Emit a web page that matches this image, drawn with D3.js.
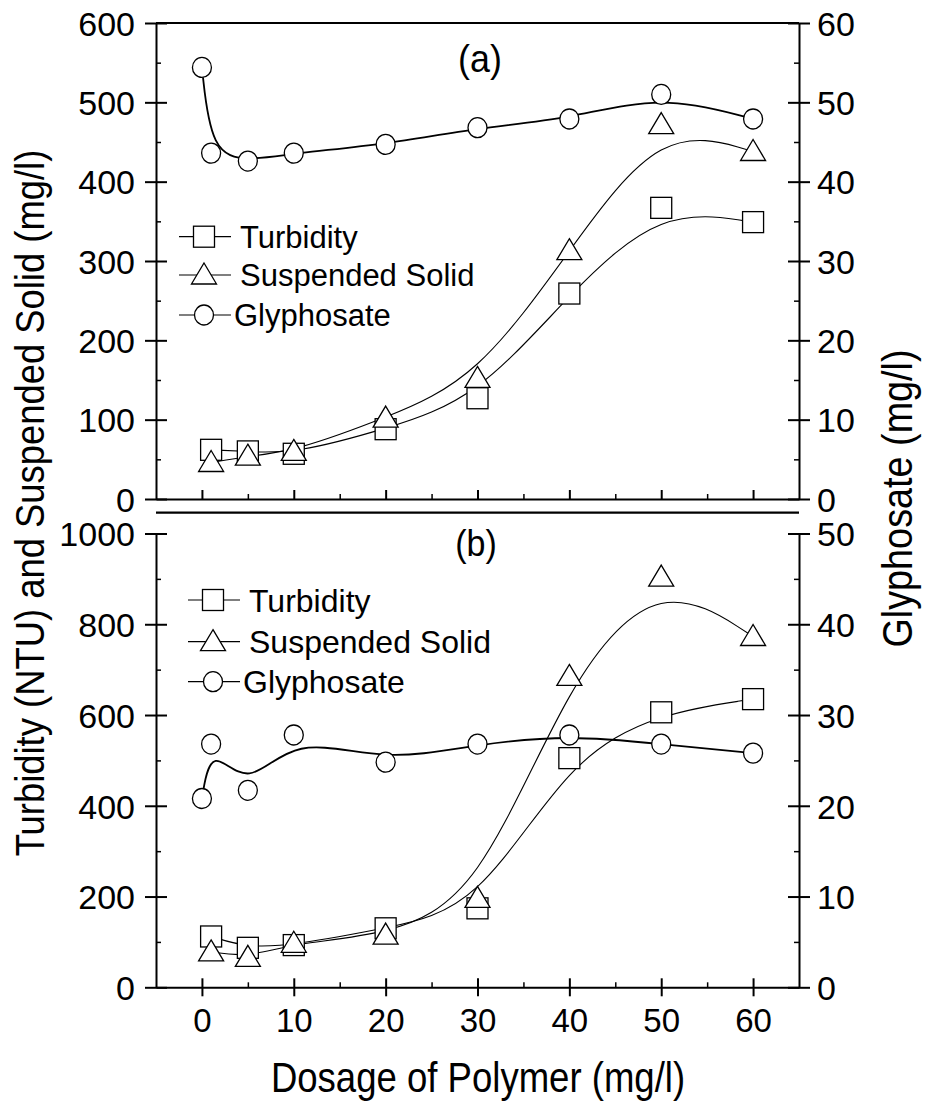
<!DOCTYPE html>
<html>
<head>
<meta charset="utf-8">
<script src="https://cdn.jsdelivr.net/npm/d3@7"></script>
<style>
  body { margin: 0; background: #fff; }
  text { font-family: "Liberation Sans", Arial, sans-serif; fill: #000; }
</style>
</head>
<body>
<script>
const width = 925;
const height = 1108;

// dosage of polymer (mg/l)
const dosage = [1, 5, 10, 20, 30, 40, 50, 60];
const glyDosage = [0, 1, 5, 10, 20, 30, 40, 50, 60];

// panel (a)
const turbidityA = [62, 60, 57, 88, 127, 259, 367, 349];
const suspendedA = [46, 54, 60, 102, 152, 313, 472, 438];
const glyphosateA = [54.4, 43.6, 42.6, 43.6, 44.7, 46.8, 47.9, 51.0, 47.9];

// panel (b)
const turbidityB = [112, 87, 93, 130, 174, 505, 606, 635];
const suspendedB = [78, 66, 97, 115, 196, 685, 904, 773];
const glyphosateB = [20.8, 26.8, 21.7, 27.8, 24.8, 26.8, 27.8, 26.8, 25.8];

const legendNames = ['Turbidity', 'Suspended Solid', 'Glyphosate'];

// ticks
const xTicks = [0, 10, 20, 30, 40, 50, 60];
const xMinor = [5, 15, 25, 35, 45, 55];
const leftTicksA = [0, 100, 200, 300, 400, 500, 600];
const leftMinorA = [50, 150, 250, 350, 450, 550];
const rightTicksA = [0, 10, 20, 30, 40, 50, 60];
const rightMinorA = [5, 15, 25, 35, 45, 55];
const leftTicksB = [0, 200, 400, 600, 800, 1000];
const leftMinorB = [100, 300, 500, 700, 900];
const rightTicksB = [0, 10, 20, 30, 40, 50];
const rightMinorB = [5, 15, 25, 35, 45];

const svg = d3.select('body').append('svg')
    .attr('width', width)
    .attr('height', height);

const x = d3.scaleLinear().domain([-5, 65]).range([156, 799]);
const yA = d3.scaleLinear().domain([0, 600]).range([499, 23]);
const gA = d3.scaleLinear().domain([0, 60]).range([499, 23]);
const yB = d3.scaleLinear().domain([0, 1000]).range([987.3, 533.5]);
const gB = d3.scaleLinear().domain([0, 50]).range([987.3, 533.5]);

const tickFont = 34;
const fmt = d3.format('d');

function styleAxis(g) {
    g.select('.domain').attr('stroke', '#000').attr('stroke-width', 2);
    g.selectAll('.tick line').attr('stroke', '#000').attr('stroke-width', 2);
    g.selectAll('.tick text').style('font-size', tickFont + 'px').attr('fill', '#000');
}

function leftAxis(yScale, major, minor) {
    const g = svg.append('g').attr('transform', `translate(${x.range()[0]},0)`);
    g.call(d3.axisLeft(yScale).tickValues(major).tickFormat(fmt).tickSize(11).tickSizeOuter(0).tickPadding(10));
    g.selectAll('.tick line').attr('x1', 11);
    g.selectAll('.tick text').attr('dy', '0.36em');
    styleAxis(g);
    const m = svg.append('g').attr('transform', `translate(${x.range()[0]},0)`);
    m.call(d3.axisLeft(yScale).tickValues(minor).tickSize(-5).tickFormat(''));
    m.select('.domain').remove();
    m.selectAll('.tick line').attr('stroke', '#000').attr('stroke-width', 1.5);
}

function rightAxis(yScale, major, minor) {
    const g = svg.append('g').attr('transform', `translate(${x.range()[1]},0)`);
    g.call(d3.axisRight(yScale).tickValues(major).tickFormat(fmt).tickSize(11).tickSizeOuter(0).tickPadding(7));
    g.selectAll('.tick line').attr('x1', -11);
    g.selectAll('.tick text').attr('dy', '0.36em');
    styleAxis(g);
    const m = svg.append('g').attr('transform', `translate(${x.range()[1]},0)`);
    m.call(d3.axisRight(yScale).tickValues(minor).tickSize(-5).tickFormat(''));
    m.select('.domain').remove();
    m.selectAll('.tick line').attr('stroke', '#000').attr('stroke-width', 1.5);
}

function bottomAxis(yPos, labels) {
    const g = svg.append('g').attr('transform', `translate(0,${yPos})`);
    if (labels) {
        g.call(d3.axisBottom(x).tickValues(xTicks).tickFormat(fmt).tickSize(9).tickSizeOuter(0).tickPadding(12));
        g.selectAll('.tick line').attr('y1', -9);
    } else {
        g.call(d3.axisBottom(x).tickValues(xTicks).tickSize(-9).tickSizeOuter(0).tickFormat(''));
    }
    styleAxis(g);
    if (labels) g.selectAll('.tick text').style('font-size', '33px');
    const m = svg.append('g').attr('transform', `translate(0,${yPos})`);
    m.call(d3.axisBottom(x).tickValues(xMinor).tickSize(-5).tickFormat(''));
    m.select('.domain').remove();
    m.selectAll('.tick line').attr('stroke', '#000').attr('stroke-width', 1.5);
}

function topLine(yPos) {
    svg.append('line')
        .attr('x1', x.range()[0]).attr('x2', x.range()[1])
        .attr('y1', yPos).attr('y2', yPos)
        .attr('stroke', '#000').attr('stroke-width', 2.2);
}

// frames and axes
topLine(yA.range()[1]);
leftAxis(yA, leftTicksA, leftMinorA);
rightAxis(gA, rightTicksA, rightMinorA);
bottomAxis(yA.range()[0], false);

topLine(512.7);
leftAxis(yB, leftTicksB, leftMinorB);
rightAxis(gB, rightTicksB, rightMinorB);
bottomAxis(yB.range()[0], true);

// markers
function marker(g, type, cx, cy) {
    if (type === 'square') {
        g.append('rect')
            .attr('x', cx - 10.5).attr('y', cy - 10.5)
            .attr('width', 21).attr('height', 21);
    } else if (type === 'triangle') {
        g.append('path')
            .attr('d', `M${cx},${cy - 12}L${cx + 12.5},${cy + 9}L${cx - 12.5},${cy + 9}Z`);
    } else {
        g.append('ellipse')
            .attr('cx', cx).attr('cy', cy).attr('rx', 9.5).attr('ry', 10);
    }
}

function drawPanel(turb, susp, gly, yScale, gScale) {
    const line = (ys) => d3.line()
        .x(d => x(d[0]))
        .y(d => ys(d[1]))
        .curve(d3.curveBasis);

    const series = [
        { xs: dosage, vals: turb, scale: yScale, type: 'square', lw: 1.1 },
        { xs: dosage, vals: susp, scale: yScale, type: 'triangle', lw: 1.1 },
        { xs: glyDosage, vals: gly, scale: gScale, type: 'circle', lw: 1.8 }
    ];

    series.forEach(s => {
        svg.append('path')
            .datum(s.xs.map((d, i) => [d, s.vals[i]]))
            .attr('fill', 'none')
            .attr('stroke', '#000')
            .attr('stroke-width', s.lw)
            .attr('d', line(s.scale));
    });

    series.forEach(s => {
        const g = svg.append('g')
            .attr('fill', '#fff')
            .attr('stroke', '#000')
            .attr('stroke-width', 1.3);
        s.xs.forEach((d, i) => marker(g, s.type, x(d), s.scale(s.vals[i])));
    });
}

drawPanel(turbidityA, suspendedA, glyphosateA, yA, gA);
drawPanel(turbidityB, suspendedB, glyphosateB, yB, gB);

// legends
function legend(x0, x1, mx, tx, rows, fontSize) {
    const types = ['square', 'triangle', 'circle'];
    rows.forEach((ry, i) => {
        svg.append('line')
            .attr('x1', x0).attr('x2', x1)
            .attr('y1', ry).attr('y2', ry)
            .attr('stroke', '#000').attr('stroke-width', 1.2);
        const g = svg.append('g')
            .attr('fill', '#fff')
            .attr('stroke', '#000')
            .attr('stroke-width', 1.3);
        marker(g, types[i], mx, ry);
        svg.append('text')
            .attr('x', i === 2 ? tx - 6 : tx)
            .attr('y', ry)
            .attr('dy', '0.36em')
            .style('font-size', fontSize + 'px')
            .text(legendNames[i]);
    });
}

legend(179, 231, 204, 240, [236.7, 275, 315], 31);
legend(188, 240, 213, 249, [600, 641.7, 681.7], 32);

// panel labels (slightly condensed, like the original)
svg.append('text')
    .attr('transform', 'translate(480,72) scale(0.92,1)')
    .attr('text-anchor', 'middle')
    .style('font-size', '39px')
    .text('(a)');

svg.append('text')
    .attr('transform', 'translate(476,556) scale(0.92,1)')
    .attr('text-anchor', 'middle')
    .style('font-size', '37px')
    .text('(b)');

// axis titles, condensed
svg.append('text')
    .attr('transform', 'translate(44,503) rotate(-90) scale(0.91,1)')
    .attr('text-anchor', 'middle')
    .style('font-size', '40px')
    .text('Turbidity (NTU) and Suspended Solid (mg/l)');

svg.append('text')
    .attr('transform', 'translate(912,498.5) rotate(-90) scale(0.9,1)')
    .attr('text-anchor', 'middle')
    .style('font-size', '42px')
    .text('Glyphosate (mg/l)');

svg.append('text')
    .attr('transform', 'translate(478,1092) scale(0.87,1)')
    .attr('text-anchor', 'middle')
    .style('font-size', '42px')
    .text('Dosage of Polymer (mg/l)');
</script>
</body>
</html>
